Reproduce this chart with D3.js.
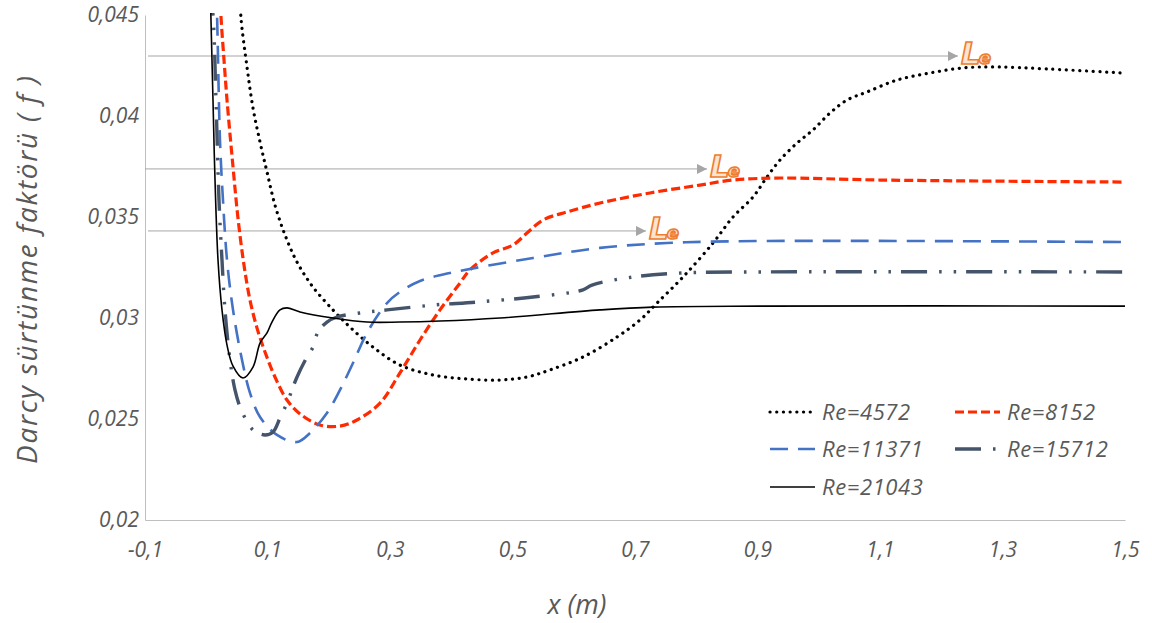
<!DOCTYPE html>
<html>
<head>
<meta charset="utf-8">
<script src="https://cdn.jsdelivr.net/npm/d3@7"></script>
<style>
  body { margin: 0; background: #fff; }
  text { font-family: "Open Sans", sans-serif; font-style: italic; }
</style>
</head>
<body>
<svg id="chart" width="1152" height="623"></svg>
<script>
// values: [x (m), f]
var xTicks = [-0.1, 0.1, 0.3, 0.5, 0.7, 0.9, 1.1, 1.3, 1.5];
var yTicks = [0.02, 0.025, 0.03, 0.035, 0.04, 0.045];

var re4572 = [[0.0551,0.04599],[0.0567,0.04485],[0.0665,0.04243],[0.0763,0.04040],[0.0878,0.03871],
  [0.0992,0.03723],[0.1122,0.03559],[0.1286,0.03411],[0.1482,0.03277],[0.1743,0.03153],
  [0.2069,0.03040],[0.2347,0.02955],[0.2722,0.02856],[0.3163,0.02767],[0.3702,0.02718],[0.4257,0.02698],
  [0.4796,0.02693],[0.5237,0.02708],[0.5612,0.02743],[0.6151,0.02807],[0.6706,0.02906],[0.7082,0.02990],
  [0.7359,0.03074],[0.7784,0.03203],[0.8273,0.03371],[0.8600,0.03500],[0.8927,0.03599],[0.9155,0.03698],
  [0.9367,0.03782],[0.9645,0.03866],[0.9906,0.03931],[1.0184,0.04015],[1.0461,0.04079],[1.0788,0.04119],
  [1.1278,0.04178],[1.1816,0.04213],[1.2355,0.04238],[1.2910,0.04243],[1.3727,0.04233],[1.4967,0.04213]];

var re8152 = [[0.0224,0.04624],[0.0241,0.04490],[0.0290,0.04277],[0.0339,0.04079],[0.0437,0.03748],
  [0.0518,0.03495],[0.0616,0.03262],[0.0714,0.03089],[0.0829,0.02950],[0.0959,0.02832],[0.1122,0.02708],
  [0.1318,0.02594],[0.1531,0.02525],[0.1857,0.02470],[0.2184,0.02465],[0.2461,0.02495],[0.2837,0.02579],
  [0.3163,0.02728],[0.3490,0.02891],[0.3816,0.03040],[0.4143,0.03173],[0.4306,0.03238],[0.4682,0.03322],
  [0.5008,0.03361],[0.5237,0.03421],[0.5498,0.03485],[0.5890,0.03525],[0.6429,0.03569],[0.7245,0.03619],
  [0.8061,0.03658],[0.8600,0.03683],[0.9367,0.03693],[1.1000,0.03683],[1.5,0.03673]];

var re11371 = [[0.0159,0.04624],[0.0176,0.04500],[0.0224,0.03881],[0.0273,0.03584],[0.0339,0.03287],
  [0.0437,0.03040],[0.0584,0.02792],[0.0714,0.02629],[0.0878,0.02510],[0.1155,0.02421],[0.1482,0.02386],
  [0.1694,0.02431],[0.1971,0.02530],[0.2184,0.02644],[0.2396,0.02777],[0.2624,0.02926],[0.2951,0.03074],
  [0.3163,0.03129],[0.3490,0.03183],[0.3980,0.03223],[0.5335,0.03297],[0.6429,0.03347],[0.7522,0.03371],
  [0.9041,0.03381],[1.5,0.03376]];

var re15712 = [[0.0061,0.04624],[0.0110,0.04500],[0.0159,0.04079],[0.0208,0.03584],[0.0257,0.03287],
  [0.0306,0.03040],[0.0388,0.02792],[0.0469,0.02644],[0.0551,0.02559],[0.0633,0.02505],[0.0763,0.02446],
  [0.0959,0.02421],[0.1090,0.02436],[0.1204,0.02505],[0.1318,0.02579],[0.1482,0.02708],[0.1645,0.02807],
  [0.1743,0.02856],[0.1824,0.02931],[0.1971,0.02980],[0.2135,0.03005],[0.2510,0.03025],[0.2951,0.03040],
  [0.3702,0.03064],[0.4420,0.03079],[0.5335,0.03104],[0.6151,0.03139],[0.6298,0.03163],[0.6967,0.03203],
  [0.7784,0.03223],[0.9041,0.03228],[1.5,0.03228]];

var re21043 = [[0.0061,0.04673],[0.0110,0.04079],[0.0143,0.03683],[0.0192,0.03287],[0.0257,0.03040],
  [0.0339,0.02866],[0.0437,0.02762],[0.0600,0.02703],[0.0763,0.02757],[0.0878,0.02876],[0.0992,0.02926],
  [0.1073,0.02980],[0.1204,0.03040],[0.1318,0.03050],[0.1531,0.03030],[0.2069,0.03000],[0.2624,0.02980],
  [0.3163,0.02980],[0.3816,0.02985],[0.4796,0.03000],[0.6429,0.03040],[0.7294,0.03054],[0.9041,0.03059],
  [1.5,0.03059]];

// entrance length arrows: start x, end x, f
var leArrows = [[-0.0951, 1.2273, 0.04297], [-0.1, 0.8176, 0.03738], [-0.0951, 0.7180, 0.03431]];

var seriesNames = ["Re=4572", "Re=8152", "Re=11371", "Re=15712", "Re=21043"];
var seriesData = [re4572, re8152, re11371, re15712, re21043];

var styles = [
  {color: "#000000", width: 3.2, dash: "0.1 6.6", cap: "round"},
  {color: "#ff2a00", width: 3.2, dash: "9 4", cap: "butt"},
  {color: "#4472c4", width: 2.6, dash: "18 10", cap: "butt"},
  {color: "#44546a", width: 3.4, dash: "26 12 2.5 12 2.5 10", cap: "butt"},
  {color: "#000000", width: 1.6, dash: null, cap: "butt"}
];

var svg = d3.select("#chart");
var x = d3.scaleLinear().domain([-0.1, 1.5]).range([145, 1125]);
var y = d3.scaleLinear().domain([0.02, 0.045]).range([520, 15]);
var fmt = function(d){ return String(d).replace(".", ","); };

svg.append("defs").append("clipPath").attr("id", "plot")
  .append("rect").attr("x", 145).attr("y", 13).attr("width", 985).attr("height", 510);

var marker = svg.select("defs").append("marker")
  .attr("id", "arrow").attr("viewBox", "0 0 10 10").attr("refX", 10).attr("refY", 5)
  .attr("markerWidth", 11).attr("markerHeight", 10).attr("markerUnits", "userSpaceOnUse")
  .attr("orient", "auto");
marker.append("path").attr("d", "M0,0L10,5L0,10Z").attr("fill", "#a6a6a6");

// axes
var yAxis = svg.append("g").attr("transform", "translate(145,0)")
  .call(d3.axisLeft(y).tickValues(yTicks).tickSize(0).tickPadding(6).tickFormat(fmt));
var xAxis = svg.append("g").attr("transform", "translate(0,520)")
  .call(d3.axisBottom(x).tickValues(xTicks).tickSize(0).tickPadding(22).tickFormat(fmt));
[yAxis, xAxis].forEach(function(a){
  a.select(".domain").attr("stroke", "#bfbfbf").attr("stroke-width", 1);
  a.selectAll("text").attr("fill", "#595959").style("font-size", "21px")
    .style("font-family", '"Open Sans", sans-serif').style("font-style", "italic");
});

svg.append("text").attr("x", 577).attr("y", 614).attr("text-anchor", "middle")
  .attr("fill", "#595959").style("font-size", "27px").text("x (m)");
svg.append("text").attr("transform", "translate(37,270) rotate(-90)").attr("text-anchor", "middle")
  .attr("fill", "#595959").style("font-size", "28px").attr("textLength", 388)
  .attr("lengthAdjust", "spacing").text("Darcy sürtünme faktörü ( f )");

// arrows
svg.append("g").selectAll("line").data(leArrows).enter().append("line")
  .attr("x1", function(d){ return x(d[0]); }).attr("x2", function(d){ return x(d[1]); })
  .attr("y1", function(d){ return y(d[2]); }).attr("y2", function(d){ return y(d[2]); })
  .attr("stroke", "#a6a6a6").attr("stroke-width", 1).attr("marker-end", "url(#arrow)");

var le = svg.append("g").selectAll("text").data(leArrows).enter().append("text")
  .attr("x", function(d){ return x(d[1]) + 3; }).attr("y", function(d){ return y(d[2]) + 8; })
  .attr("fill", "#fde4cf").attr("stroke", "#ed7d31").attr("stroke-width", 1.6)
  .style("font-weight", "bold").style("font-family", '"DejaVu Sans", sans-serif');
le.append("tspan").style("font-size", "31px").text("L");
le.append("tspan").style("font-size", "18px").attr("dx", -2).text("e");

// curves
var line = d3.line().x(function(d){ return x(d[0]); }).y(function(d){ return y(d[1]); })
  .curve(d3.curveCatmullRom.alpha(0.5));
svg.append("g").attr("clip-path", "url(#plot)").selectAll("path").data(seriesData).enter()
  .append("path")
  .attr("d", line)
  .attr("fill", "none")
  .attr("stroke", function(d, i){ return styles[i].color; })
  .attr("stroke-width", function(d, i){ return styles[i].width; })
  .attr("stroke-dasharray", function(d, i){ return styles[i].dash; })
  .attr("stroke-linecap", function(d, i){ return styles[i].cap; })
  .attr("stroke-linejoin", "round");

// legend
var legendPos = [[770, 412], [955, 412], [770, 449], [955, 449], [770, 487]];
var lg = svg.append("g").selectAll("g").data(seriesNames).enter().append("g")
  .attr("transform", function(d, i){ return "translate(" + legendPos[i][0] + "," + legendPos[i][1] + ")"; });
lg.append("line").attr("x1", 0).attr("x2", 45).attr("y1", 0).attr("y2", 0)
  .attr("stroke", function(d, i){ return styles[i].color; })
  .attr("stroke-width", function(d, i){ return styles[i].width; })
  .attr("stroke-dasharray", function(d, i){ return styles[i].dash; })
  .attr("stroke-linecap", function(d, i){ return styles[i].cap; });
lg.append("text").attr("x", 52).attr("y", 8).attr("fill", "#595959")
  .style("font-size", "22px").style("letter-spacing", "0.6px").text(function(d){ return d; });
</script>
</body>
</html>
